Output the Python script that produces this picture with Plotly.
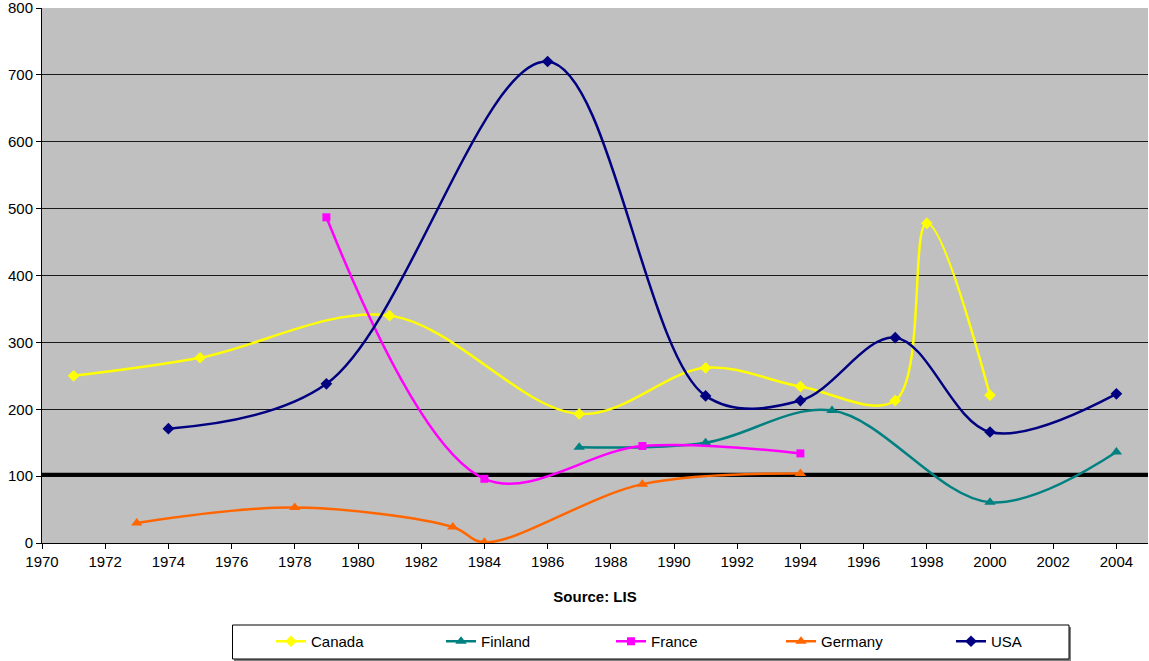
import plotly.graph_objects as go

# values
canada_years = [1971, 1975, 1981, 1987, 1991, 1994, 1997, 1998, 2000]
canada = [250, 277, 340, 193, 262, 234, 213, 478, 221]

finland_years = [1987, 1991, 1995, 2000, 2004]
finland = [143, 150, 198, 61, 136]

france_years = [1979, 1984, 1989, 1994]
france = [487, 96, 145, 134]

germany_years = [1973, 1978, 1983, 1984, 1989, 1994]
germany = [30, 53, 24, 1, 88, 104]

usa_years = [1974, 1979, 1986, 1991, 1994, 1997, 2000, 2004]
usa = [171, 238, 720, 220, 213, 307, 166, 223]

ref_years = [1970, 2005]
ref_level = [102, 102]

series = [
    ('Canada', canada_years, canada, '#FFFF00', 'diamond', 9),
    ('Finland', finland_years, finland, '#008080', 'triangle-up', 10),
    ('France', france_years, france, '#FF00FF', 'square', 8),
    ('Germany', germany_years, germany, '#FF6600', 'triangle-up', 10),
    ('USA', usa_years, usa, '#000080', 'diamond', 9),
]

W, H = 1149, 661
L, R, T, B = 42, 1, 8, 118
pw, ph = W - L - R, H - T - B

def px_x(p):
    return (p - L) / pw

def px_y(p):
    return (H - B - p) / ph

fig = go.Figure()

fig.add_trace(go.Scatter(x=ref_years, y=ref_level, mode='lines',
                         line=dict(color='black', width=4),
                         showlegend=False, hoverinfo='skip'))

for name, xs, ys, col, sym, sz in series:
    fig.add_trace(go.Scatter(x=xs, y=ys, name=name, mode='lines+markers',
                             line=dict(color=col, width=2.5, shape='spline', smoothing=1),
                             marker=dict(color=col, symbol=sym, size=sz)))

axis_font = dict(family='Liberation Sans, Arial, sans-serif', size=15, color='black')

# legend frame (with a little shadow) drawn as shapes
fig.add_shape(type='rect', xref='paper', yref='paper',
              x0=px_x(234), x1=px_x(1071), y0=px_y(661), y1=px_y(627),
              fillcolor='#808080', line=dict(width=0))
fig.add_shape(type='rect', xref='paper', yref='paper',
              x0=px_x(232.5), x1=px_x(1069), y0=px_y(659), y1=px_y(625),
              fillcolor='white', line=dict(color='black', width=1))

fig.update_layout(
    width=W, height=H,
    margin=dict(l=L, r=R, t=T, b=B),
    paper_bgcolor='white',
    plot_bgcolor='#C0C0C0',
    font=axis_font,
    xaxis=dict(range=[1970, 2005], tickmode='array',
               tickvals=list(range(1970, 2005, 2)),
               showgrid=False, zeroline=False, automargin=False,
               showline=True, linecolor='black', linewidth=1,
               ticks='outside', ticklen=5, tickcolor='black',
               tickfont=axis_font,
               title=dict(text='<b>Source: LIS</b>', font=dict(size=15), standoff=22)),
    yaxis=dict(range=[0, 800], dtick=100, automargin=False,
               showgrid=True, gridcolor='#1a1a1a', gridwidth=1.2,
               zeroline=False, ticklabeloverflow='allow',
               showline=True, linecolor='black', linewidth=1,
               ticks='outside', ticklen=5, tickcolor='black',
               tickfont=axis_font),
    legend=dict(orientation='h', x=px_x(271), xanchor='left', y=px_y(625), yanchor='top',
                borderwidth=0, bgcolor='rgba(0,0,0,0)',
                font=dict(size=15), entrywidth=125),
)

# page has a default 8px body margin; drop it so the figure sits at 0,0
fig.write_html("out.html", config={'displayModeBar': False},
               post_script="document.body.style.margin='0';")
